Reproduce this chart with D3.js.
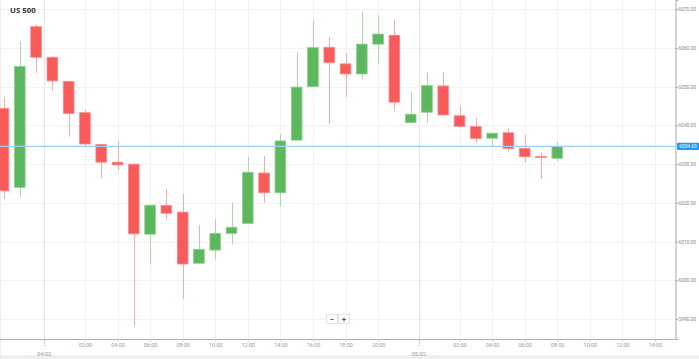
<!DOCTYPE html>
<html><head><meta charset="utf-8">
<script src="https://cdn.jsdelivr.net/npm/d3@7"></script>
<style>html,body{margin:0;padding:0;background:#fff;overflow:hidden}svg{display:block}</style>
</head><body>
<script>
// ---- data ----
const title = "US 500";
const openV  = [6044.4,6024.0,6065.5,6057.6,6051.4,6043.3,6035.1,6030.5,6030.0,6011.9,6019.3,6017.6,6004.4,6007.8,6012.1,6014.7,6027.7,6022.6,6036.2,6050.0,6060.2,6055.9,6053.3,6061.0,6063.3,6040.7,6043.4,6050.2,6042.5,6039.7,6036.7,6038.1,6034.1,6032.0,6031.5];
const closeV = [6023.1,6055.2,6057.6,6051.5,6043.1,6035.2,6030.5,6029.8,6012.0,6019.4,6017.3,6004.2,6008.0,6012.1,6013.7,6027.9,6022.6,6036.0,6049.9,6060.1,6056.2,6053.3,6061.0,6063.6,6046.0,6042.9,6050.3,6042.7,6039.7,6036.6,6038.0,6034.0,6031.9,6031.7,6034.6];
const highV  = [6047.4,6061.8,6066.1,6057.9,6051.4,6044.0,6035.1,6036.0,6030.2,6019.4,6023.6,6022.3,6014.3,6015.8,6020.1,6031.9,6032.1,6037.7,6058.9,6067.4,6062.8,6058.6,6069.4,6068.5,6067.2,6048.6,6053.6,6053.7,6045.0,6042.0,6038.0,6039.3,6037.5,6033.1,6035.7];
const lowV   = [6021.0,6021.6,6053.6,6049.0,6037.1,6034.4,6026.3,6028.5,5988.2,6004.1,6015.8,5995.1,6004.4,6005.4,6009.3,6014.7,6020.0,6019.0,6036.2,6050.0,6040.4,6047.3,6052.0,6056.0,6043.6,6040.7,6040.7,6042.7,6039.4,6035.5,6034.5,6033.2,6030.4,6026.2,6030.8];
const timeTickIdx    = [5,7,9,11,13,15,17,19,21,23,28,30,32,34,36,38,40];
const timeTickLabels = ["02:00","04:00","06:00","08:00","10:00","12:00","14:00","16:00","18:00","20:00","02:00","04:00","06:00","08:00","10:00","12:00","14:00"];
const dateTickIdx    = [2.5,25.5];
const dateTickLabels = ["04/02","05/02"];
const yTicks = [5990,6000,6010,6020,6030,6040,6050,6060,6070];
const lastPrice = 6034.6;
const slotDomain = [-0.215, 41.26];
const priceDomain = [5984.83, 6072.4];

// ---- layout ----
const W = 699, H = 359;
const plotR = 675.5, plotB = 339;
const svg = d3.select("body").append("svg").attr("width", W).attr("height", H);
const x = d3.scaleLinear().domain(slotDomain).range([0, plotR]);
const y = d3.scaleLinear().domain(priceDomain).range([plotB, 0]);
const step = x(1) - x(0);
const bw = step * 0.655;
const FONT = "Roboto, 'Open Sans', sans-serif";

// frame
svg.append("rect").attr("x", 0).attr("y", 355).attr("width", W).attr("height", 4).attr("fill", "#efefef");
svg.append("line").attr("x1", 0.5).attr("x2", 0.5).attr("y1", 0).attr("y2", 355).attr("stroke", "#ececec");

// grid
const grid = svg.append("g");
grid.selectAll(".hg").data(yTicks).enter().append("line")
  .attr("x1", 0).attr("x2", plotR).attr("y1", d => Math.round(y(d)) + 0.5).attr("y2", d => Math.round(y(d)) + 0.5)
  .attr("stroke", "#f2f2f2");
grid.selectAll(".vg").data(timeTickIdx).enter().append("line")
  .attr("x1", d => Math.round(x(d)) + 0.5).attr("x2", d => Math.round(x(d)) + 0.5).attr("y1", 0).attr("y2", plotB)
  .attr("stroke", "#f2f2f2");
grid.selectAll(".dg").data(dateTickIdx).enter().append("line")
  .attr("x1", d => Math.round(x(d)) + 0.5).attr("x2", d => Math.round(x(d)) + 0.5).attr("y1", 0).attr("y2", plotB)
  .attr("stroke", "#e6e6e6");

// candles
const data = openV.map((o, i) => ({i, o, c: closeV[i], h: highV[i], l: lowV[i]}));
const clip = svg.append("defs").append("clipPath").attr("id", "clip").append("rect")
  .attr("x", 0).attr("y", 0).attr("width", plotR).attr("height", plotB);
const cg = svg.append("g").attr("clip-path", "url(#clip)");
cg.selectAll(".wick").data(data).enter().append("line")
  .attr("x1", d => Math.round(x(d.i)) + 0.5).attr("x2", d => Math.round(x(d.i)) + 0.5)
  .attr("y1", d => y(d.h)).attr("y2", d => y(d.l))
  .attr("stroke", d => d.c >= d.o ? "#a9d9a9" : "#f8a9a9").attr("stroke-width", 1);
cg.selectAll(".body").data(data).enter().append("rect")
  .attr("x", d => x(d.i) - bw / 2).attr("width", bw)
  .attr("y", d => y(Math.max(d.o, d.c)))
  .attr("height", d => Math.max(1, Math.abs(y(d.o) - y(d.c))))
  .attr("fill", d => d.c >= d.o ? "#5cb85c" : "#f95a5a")
  .attr("stroke", d => d.c >= d.o ? "#8fcf8f" : "#fb8a8a").attr("stroke-width", 0.8);

// last price line
svg.append("line").attr("x1", 0).attr("x2", plotR).attr("y1", y(lastPrice)).attr("y2", y(lastPrice))
  .attr("stroke", "#9dd0f5").attr("stroke-width", 1.3);

// axes
const yAxis = d3.axisRight(y).tickValues(yTicks).tickSize(2.5).tickFormat(d3.format(".2f"));
const ya = svg.append("g").attr("transform", `translate(${plotR},0)`).call(yAxis);
ya.select(".domain").attr("stroke", "#a8a8a8");
ya.selectAll(".tick line").attr("stroke", "#a8a8a8");
ya.selectAll(".tick text").attr("x", 3).attr("fill", "#888").attr("font-size", 4.8).attr("font-family", FONT);

const xAxis = d3.axisBottom(x).tickValues(timeTickIdx).tickSize(2.5)
  .tickFormat((d, k) => timeTickLabels[k]);
const xa = svg.append("g").attr("transform", `translate(0,${plotB})`).call(xAxis);
xa.select(".domain").attr("stroke", "#b0b0b0").attr("d", `M0,0.5H${plotR}`);
xa.selectAll(".tick line").attr("stroke", "#c8c8c8");
xa.selectAll(".tick text").attr("y", 4.5).attr("fill", "#999").attr("font-size", 5.4).attr("font-family", FONT);

const dt = svg.append("g").attr("transform", `translate(0,${plotB})`);
dt.selectAll("line").data(dateTickIdx).enter().append("line")
  .attr("x1", d => Math.round(x(d)) + 0.5).attr("x2", d => Math.round(x(d)) + 0.5)
  .attr("y1", 1).attr("y2", 7).attr("stroke", "#aaa").attr("stroke-dasharray", "1,1.5");
dt.selectAll("text").data(dateTickLabels).enter().append("text")
  .attr("x", (d, k) => x(dateTickIdx[k])).attr("y", 16.5)
  .attr("text-anchor", "middle").attr("fill", "#999").attr("font-size", 5.4).attr("font-family", FONT)
  .text(d => d);

// last price label
const ly = y(lastPrice);
svg.append("rect").attr("x", 677).attr("y", ly - 3.7).attr("width", 22).attr("height", 7.4).attr("rx", 1)
  .attr("fill", "#2196f3");
svg.append("text").attr("x", 688).attr("y", ly + 1.7).attr("text-anchor", "middle")
  .attr("fill", "#fff").attr("font-size", 4.8).attr("font-family", FONT).text(d3.format(".2f")(lastPrice));

// title
svg.append("text").attr("x", 10).attr("y", 12.8).attr("fill", "#333").attr("font-weight", "bold")
  .attr("font-size", 7.8).attr("font-family", "'Open Sans', sans-serif").text(title);

// zoom buttons
const zb = svg.append("g");
[["−", 326], ["+", 338]].forEach(([t, bx]) => {
  zb.append("rect").attr("x", bx + 0.5).attr("y", 314.5).attr("width", 11).attr("height", 9)
    .attr("fill", "#fff").attr("stroke", "#e2e2e2");
  zb.append("text").attr("x", bx + 6).attr("y", 321.6).attr("text-anchor", "middle")
    .attr("fill", "#555").attr("font-weight", "bold").attr("font-size", 8).attr("font-family", FONT).text(t);
});
</script>
</body></html>
